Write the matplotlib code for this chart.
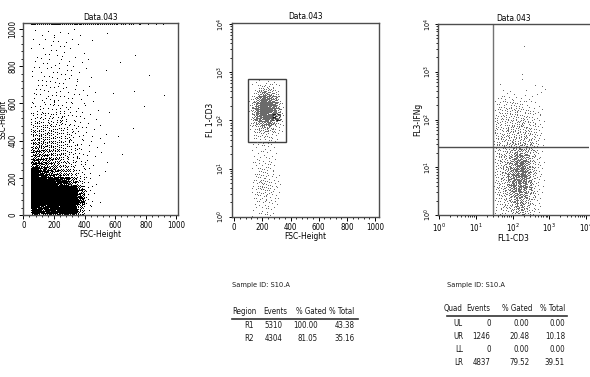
import matplotlib
matplotlib.use("Agg")
import matplotlib.pyplot as plt
import numpy as np
from matplotlib.patches import Ellipse, Rectangle
from matplotlib.ticker import MultipleLocator, LogLocator, FixedLocator, NullFormatter

# the original uses a condensed Helvetica; DejaVu Sans Condensed is the closest installed face
plt.rcParams['font.family'] = ['DejaVu Sans']
plt.rcParams['font.stretch'] = 'condensed'
plt.rcParams['mathtext.fontset'] = 'custom'
plt.rcParams['mathtext.rm'] = 'DejaVu Sans:stretch=condensed'
plt.rcParams['mathtext.it'] = 'DejaVu Sans:stretch=condensed'
base_fs = 6.0

title = "Data.043"
sample_id = "Sample ID: S10.A"

# ---- panel 1: FSC vs SSC, dot counts per 50x50 cell (rows = SSC bins from 0 up) ----
p1_xedges = list(range(0, 1001, 50))
p1_yedges = list(range(0, 1001, 50))
p1_counts = [
    [0, 120, 80, 110, 130, 130, 100, 25, 2, 0, 0, 0, 0, 0, 0, 0, 0, 0, 0, 0],
    [0, 250, 250, 250, 250, 250, 220, 60, 5, 1, 0, 0, 0, 0, 0, 0, 0, 0, 0, 0],
    [0, 250, 250, 250, 250, 240, 160, 40, 5, 1, 0, 0, 0, 0, 0, 0, 0, 0, 0, 0],
    [0, 250, 200, 120, 90, 65, 35, 12, 3, 1, 0, 0, 0, 0, 0, 0, 0, 0, 0, 0],
    [0, 160, 60, 45, 35, 25, 14, 6, 3, 1, 1, 0, 0, 0, 0, 0, 0, 0, 0, 0],
    [0, 60, 40, 32, 25, 16, 10, 5, 2, 1, 1, 0, 0, 0, 0, 0, 0, 0, 0, 0],
    [0, 36, 30, 26, 20, 13, 8, 4, 2, 1, 1, 0, 1, 0, 0, 0, 0, 0, 0, 0],
    [0, 26, 24, 21, 16, 11, 7, 4, 2, 1, 1, 0, 0, 0, 0, 0, 0, 0, 0, 0],
    [0, 18, 18, 17, 13, 9, 6, 4, 2, 1, 1, 0, 1, 0, 0, 0, 0, 0, 0, 0],
    [0, 13, 13, 13, 11, 7, 5, 3, 2, 1, 1, 0, 0, 0, 1, 0, 0, 0, 0, 0],
    [0, 8, 9, 9, 8, 6, 4, 3, 1, 1, 0, 1, 0, 0, 0, 0, 0, 0, 0, 0],
    [0, 4, 5, 5, 5, 4, 3, 2, 1, 1, 0, 0, 0, 0, 0, 1, 0, 0, 0, 0],
    [0, 3, 4, 4, 4, 3, 3, 2, 1, 1, 0, 1, 0, 0, 0, 0, 0, 0, 1, 0],
    [0, 3, 3, 3, 4, 3, 2, 1, 1, 1, 0, 0, 0, 0, 1, 0, 0, 0, 0, 0],
    [0, 2, 3, 3, 3, 3, 2, 1, 1, 0, 0, 0, 0, 0, 0, 0, 1, 0, 0, 0],
    [0, 2, 2, 3, 3, 2, 2, 1, 1, 0, 1, 0, 0, 0, 0, 0, 0, 0, 0, 0],
    [0, 2, 2, 2, 3, 2, 1, 1, 1, 0, 0, 0, 1, 0, 0, 0, 0, 0, 0, 0],
    [0, 1, 2, 2, 2, 2, 1, 1, 0, 0, 0, 0, 0, 0, 1, 0, 0, 0, 0, 0],
    [0, 1, 2, 2, 2, 2, 1, 1, 1, 0, 0, 0, 0, 0, 0, 0, 0, 0, 0, 0],
    [0, 1, 1, 2, 2, 1, 1, 1, 0, 0, 1, 0, 0, 0, 0, 0, 0, 0, 0, 0],
]
# events piled up on the top channel (SSC saturated)
p1_top_counts = [0, 10, 14, 14, 14, 12, 10, 9, 7, 5, 5, 4, 3, 3, 2, 2, 1, 1, 1, 0]
p1_top_y = 1022
# R1 gate
r1_center = (223, 100)
r1_width, r1_height = 254, 172

# ---- panel 2: FSC vs FL1-CD3 (log), 25-unit x cells, 1/8 decade y cells ----
p2_xedges = list(range(100, 351, 25))
p2_ylog_edges = [i / 8 for i in range(0, 24)]
p2_counts = [
    [0, 1, 1, 2, 1, 2, 1, 1, 0, 0],
    [0, 1, 2, 2, 2, 2, 1, 1, 1, 0],
    [0, 1, 2, 3, 3, 2, 2, 1, 1, 0],
    [0, 2, 3, 3, 4, 3, 2, 2, 1, 0],
    [0, 2, 3, 4, 4, 4, 3, 2, 1, 0],
    [0, 2, 3, 4, 4, 4, 3, 2, 1, 1],
    [0, 1, 3, 3, 3, 3, 2, 1, 1, 0],
    [0, 1, 2, 3, 3, 2, 2, 1, 0, 0],
    [0, 1, 2, 2, 2, 2, 2, 1, 0, 0],
    [0, 1, 1, 2, 2, 2, 1, 1, 0, 0],
    [0, 1, 1, 1, 2, 1, 1, 1, 0, 0],
    [0, 1, 2, 1, 2, 1, 1, 1, 0, 0],
    [0, 1, 2, 2, 2, 2, 2, 1, 1, 0],
    [0, 2, 3, 4, 4, 4, 3, 2, 1, 0],
    [1, 3, 5, 7, 9, 9, 7, 5, 2, 1],
    [2, 5, 10, 15, 18, 18, 15, 10, 5, 2],
    [2, 8, 15, 22, 27, 27, 22, 15, 8, 2],
    [3, 10, 20, 28, 32, 32, 28, 20, 10, 3],
    [2, 8, 17, 26, 30, 30, 26, 17, 8, 2],
    [1, 5, 12, 19, 22, 22, 19, 12, 5, 1],
    [0, 2, 5, 9, 11, 11, 9, 5, 2, 0],
    [0, 1, 2, 3, 4, 4, 3, 2, 1, 0],
    [0, 0, 1, 1, 0, 1, 0, 1, 0, 0],
]
r2_x = (95, 365)
r2_y = (35, 725)
r2_label_pos = (262, 112)

# ---- panel 3: FL1-CD3 vs FL3-IFNg, 1/8 decade cells in both axes ----
p3_xlog_edges = [1.5 + i / 8 for i in range(0, 13)]
p3_ylog_edges = [i / 8 for i in range(0, 25)]
p3_counts = [
    [2, 4, 4, 6, 9, 11, 9, 6, 4, 2, 0, 0],
    [2, 4, 6, 7, 11, 13, 11, 8, 4, 2, 0, 0],
    [4, 4, 6, 9, 13, 15, 13, 8, 4, 2, 1, 0],
    [4, 6, 7, 11, 15, 19, 17, 10, 6, 2, 1, 0],
    [4, 6, 8, 13, 19, 23, 21, 12, 6, 2, 1, 0],
    [4, 6, 8, 13, 21, 25, 23, 12, 6, 3, 1, 0],
    [4, 6, 8, 15, 23, 27, 25, 14, 6, 3, 1, 0],
    [4, 6, 8, 15, 23, 27, 25, 14, 8, 3, 1, 0],
    [4, 6, 8, 13, 21, 25, 23, 12, 6, 3, 1, 0],
    [4, 6, 7, 11, 17, 19, 17, 10, 6, 3, 1, 0],
    [4, 5, 6, 8, 12, 12, 12, 8, 6, 3, 1, 0],
    [5, 6, 7, 8, 9, 9, 9, 7, 5, 4, 1, 0],
    [5, 6, 6, 7, 7, 7, 7, 7, 5, 3, 1, 0],
    [5, 5, 6, 7, 7, 7, 7, 6, 5, 3, 1, 0],
    [5, 5, 6, 6, 7, 7, 6, 6, 5, 3, 1, 0],
    [5, 5, 5, 6, 6, 6, 6, 5, 4, 2, 1, 0],
    [4, 5, 5, 5, 5, 5, 5, 4, 3, 2, 1, 0],
    [3, 5, 5, 5, 5, 5, 4, 3, 2, 1, 1, 0],
    [2, 3, 4, 3, 4, 3, 3, 2, 1, 1, 0, 0],
    [1, 2, 2, 2, 2, 2, 1, 1, 1, 0, 0, 0],
    [0, 1, 1, 1, 1, 0, 1, 0, 0, 1, 1, 1],
    [0, 1, 0, 0, 0, 0, 0, 0, 1, 0, 1, 0],
    [0, 0, 0, 0, 0, 0, 0, 0, 0, 0, 0, 0],
    [0, 0, 0, 0, 0, 1, 0, 0, 0, 0, 0, 0],
]
p3_outliers_x = [200, 180]
p3_outliers_y = [3300, 660]
quad_x = 29
quad_y = 26

# ---- stats tables ----
region_names = ["R1", "R2"]
region_events = ["5310", "4304"]
region_gated = ["100.00", "81.05"]
region_total = ["43.38", "35.16"]

quad_names = ["UL", "UR", "LL", "LR"]
quad_events = ["0", "1246", "0", "4837"]
quad_gated = ["0.00", "20.48", "0.00", "79.52"]
quad_total = ["0.00", "10.18", "0.00", "39.51"]


def cell_points(counts, xedges, yedges):
    # spread each cell's dots evenly inside the cell (R2 sequence, no randomness)
    xs, ys = [], []
    a1, a2 = 0.7548776662, 0.5698402910
    for i, row in enumerate(counts):
        for j, n in enumerate(row):
            if n == 0:
                continue
            k = np.arange(n) + (i * 7 + j * 13)
            u = (0.37 + k * a1) % 1
            v = (0.61 + k * a2) % 1
            xs.append(xedges[j] + u * (xedges[j + 1] - xedges[j]))
            ys.append(yedges[i] + v * (yedges[i + 1] - yedges[i]))
    return np.concatenate(xs), np.concatenate(ys)


W, H = 590, 377
fig = plt.figure(figsize=(W / 100, H / 100), dpi=100)


def px_axes(left, top, right, bottom):
    return fig.add_axes([left / W, 1 - bottom / H, (right - left) / W, (bottom - top) / H])


tick_fs = base_fs - 0.3
label_fs = base_fs
dot_gray = '0.42'

# panel 1
ax1 = px_axes(23.3, 23, 178, 215)
x1, y1 = cell_points(p1_counts, p1_xedges, p1_yedges)
ax1.plot(x1, y1, ',', color='black')
tx = []
for j, n in enumerate(p1_top_counts):
    tx += list(p1_xedges[j] + (0.3 + np.arange(n) * 0.7548776662) % 1 * 50)
ax1.plot(tx, [p1_top_y] * len(tx), ',', color='black')
ax1.add_patch(Ellipse(r1_center, r1_width, r1_height, fill=False, edgecolor='0.4', lw=0.9))
ax1.set_xlim(0, 1010)
ax1.set_ylim(0, 1032)
ax1.xaxis.set_major_locator(MultipleLocator(200))
ax1.xaxis.set_minor_locator(MultipleLocator(40))
ax1.yaxis.set_major_locator(MultipleLocator(200))
ax1.yaxis.set_minor_locator(MultipleLocator(40))
for lab in ax1.get_yticklabels():
    lab.set_rotation(90)
    lab.set_va('center')
ax1.set_xlabel("FSC-Height", fontsize=label_fs, labelpad=0)
ax1.set_ylabel("SSC-Height", fontsize=5.6)
ax1.yaxis.set_label_coords(-0.1, 0.5)

# panel 2
ax2 = px_axes(231.7, 22.7, 379, 216.7)
p2_yedges = [10 ** e for e in p2_ylog_edges]
x2, y2 = cell_points(p2_counts, p2_xedges, p2_yedges)
ax2.plot(x2, y2, ',', color=dot_gray)
ax2.set_yscale('log')
ax2.set_xlim(-18, 1028)
ax2.set_ylim(1, 10 ** 4.03)
ax2.add_patch(Rectangle((r2_x[0], r2_y[0]), r2_x[1] - r2_x[0], r2_y[1] - r2_y[0],
                        fill=False, edgecolor='0.25', lw=1.0))
ax2.text(r2_label_pos[0], r2_label_pos[1], "R2", fontsize=base_fs + 0.5, va='center', ha='left')
ax2.xaxis.set_major_locator(MultipleLocator(200))
ax2.xaxis.set_minor_locator(MultipleLocator(40))
ax2.set_xlabel("FSC-Height", fontsize=label_fs, labelpad=0)
ax2.set_ylabel("FL 1-CD3", fontsize=label_fs)
ax2.yaxis.set_label_coords(-0.11, 0.5)

# panel 3
ax3 = px_axes(438.3, 24, 589, 215)
p3_xedges = [10 ** e for e in p3_xlog_edges]
p3_yedges = [10 ** e for e in p3_ylog_edges]
x3, y3 = cell_points(p3_counts, p3_xedges, p3_yedges)
ax3.plot(x3, y3, ',', color=dot_gray)
ax3.plot(p3_outliers_x, p3_outliers_y, ',', color=dot_gray)
ax3.set_xscale('log')
ax3.set_yscale('log')
ax3.set_xlim(10 ** -0.03, 10 ** 4.09)
ax3.set_ylim(1, 10 ** 4.0)
ax3.axvline(quad_x, color='0.45', lw=1.0)
ax3.axhline(quad_y, color='0.3', lw=1.0)
ax3.spines['right'].set_visible(False)
ax3.set_xlabel("FL1-CD3", fontsize=label_fs, labelpad=0)
ax3.set_ylabel("FL3-IFNg", fontsize=label_fs)
ax3.yaxis.set_label_coords(-0.105, 0.5)

for ax in (ax1, ax2, ax3):
    ax.set_title(title, fontsize=label_fs, pad=2.5)
    ax.tick_params(which='major', direction='out', length=3, width=0.7, labelsize=tick_fs, pad=1.5)
    ax.tick_params(which='minor', direction='out', length=1.6, width=0.6)
    for s in ax.spines.values():
        s.set_linewidth(1.0)
        s.set_color('0.3')
ax1.tick_params(axis='y', which='major', pad=1.0)

decade_labels = [r"$10^{0}$", r"$10^{1}$", r"$10^{2}$", r"$10^{3}$", r"$10^{4}$"]
for ax in (ax2, ax3):
    ax.yaxis.set_major_locator(FixedLocator([1, 10, 100, 1000, 10000]))
    ax.set_yticklabels(decade_labels, rotation=90, va='center')
    ax.yaxis.set_minor_locator(LogLocator(base=10, subs=np.arange(2, 10)))
    ax.yaxis.set_minor_formatter(NullFormatter())
    ax.tick_params(axis='y', which='major', length=2.5, pad=0.8, labelsize=5.2)
    ax.tick_params(axis='y', which='minor', length=1.3)
ax3.xaxis.set_major_locator(FixedLocator([1, 10, 100, 1000, 10000]))
ax3.set_xticklabels(decade_labels)
ax3.xaxis.set_minor_locator(LogLocator(base=10, subs=np.arange(2, 10)))
ax3.xaxis.set_minor_formatter(NullFormatter())

table_fs = 5.7


def ftext(x, y, s, ha='left', fs=table_fs):
    fig.text(x / W, 1 - y / H, s, ha=ha, va='center', fontsize=fs, color='0.1')


def fline(x0, x1, y):
    fig.add_artist(plt.Line2D([x0 / W, x1 / W], [1 - y / H, 1 - y / H], color='0.2', lw=1.2))


# region table
ftext(232, 285, sample_id, fs=5.3)
ftext(232.7, 312, "Region")
ftext(287.7, 312, "Events", ha='right')
ftext(326, 312, "% Gated", ha='right')
ftext(354.7, 312, "% Total", ha='right')
fline(232, 358, 319)
for r, (nm, ev, g, t) in enumerate(zip(region_names, region_events, region_gated, region_total)):
    yy = 326 + r * 12.6
    ftext(254, yy, nm, ha='right')
    ftext(282, yy, ev, ha='right')
    ftext(317.5, yy, g, ha='right')
    ftext(354.5, yy, t, ha='right')

# quadrant table
ftext(447, 285, sample_id, fs=5.3)
ftext(463, 308.5, "Quad", ha='right')
ftext(490.5, 308.5, "Events", ha='right')
ftext(532, 308.5, "% Gated", ha='right')
ftext(565, 308.5, "% Total", ha='right')
fline(446.7, 567, 315.7)
for r, (nm, ev, g, t) in enumerate(zip(quad_names, quad_events, quad_gated, quad_total)):
    yy = 324 + r * 12.8
    ftext(463, yy, nm, ha='right')
    ftext(490.5, yy, ev, ha='right')
    ftext(529.5, yy, g, ha='right')
    ftext(565, yy, t, ha='right')

fig.savefig("out.png", dpi=100)
